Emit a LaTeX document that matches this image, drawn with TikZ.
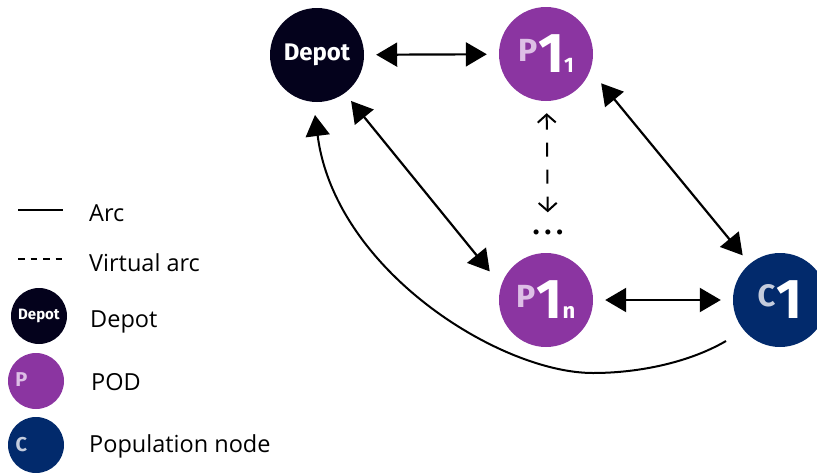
\documentclass[tikz,border=0pt]{standalone}
\usepackage{fontspec}
\setmainfont{Open Sans}
\newfontfamily\nodefont{Fira Sans}
\usetikzlibrary{arrows.meta,calc}

\definecolor{depotfill}{HTML}{04021C}
\definecolor{podfill}{HTML}{8B35A1}
\definecolor{popfill}{HTML}{022A6C}
\definecolor{podletter}{HTML}{DDBFE6}
\definecolor{popletter}{HTML}{C4CCDD}

\newcommand{\setsz}[1]{\fontsize{#1}{#1}\selectfont}

\begin{document}
\begin{tikzpicture}[x=1pt,y=-1pt,
  site/.style={circle, inner sep=0pt, minimum size=94pt, text=white, font=\nodefont\bfseries},
  keysite/.style={circle, inner sep=0pt, minimum size=56pt, text=white, font=\nodefont\bfseries},
  keyletter/.style={inner sep=0pt, font=\nodefont\bfseries\setsz{20}},
  keytext/.style={anchor=base west, inner sep=0pt, font=\setsz{23.5}},
  bigtip/.tip={Triangle[length=21pt,width=24pt]},
  barbtip/.tip={Straight Barb[length=8pt,width=18pt]},
  arcline/.style={line width=2.2pt, bigtip-bigtip},
  returnarc/.style={line width=2pt, -bigtip},
  virtarc/.style={line width=2pt, dash pattern=on 14pt off 13pt, barbtip-barbtip},
  keyline/.style={line width=2pt},
  keydash/.style={line width=2pt, dash pattern=on 6.5pt off 6pt},
]
\useasboundingbox (0,0) rectangle (817,472);

% network nodes
\node[site, fill=depotfill, font=\nodefont\bfseries\setsz{24}] (dep) at (317,55) {Depot};
\node[site, fill=podfill] (p11) at (546,54)
  {{\color{podletter}\setsz{32}\raisebox{11pt}{P}}\kern1pt{\setsz{56}1}{\setsz{21}1}};
\node[site, fill=podfill] (p1n) at (546,300)
  {{\color{podletter}\setsz{32}\raisebox{11pt}{P}}\kern1pt{\setsz{56}1}{\setsz{22}n}};
\node[site, fill=popfill] (c1) at (780,300)
  {{\color{popletter}\setsz{31}\raisebox{12pt}{C}}\kern1pt{\setsz{56}1}};
\node[inner sep=0pt, font=\nodefont\bfseries\setsz{28}] (dots) at (548,232) {.\kern5pt.\kern5pt.};

% arcs between nodes
\draw[arcline, shorten <=12pt, shorten >=12pt] (dep) -- (p11);
\draw[arcline, shorten <=12pt, shorten >=12pt] (p1n) -- (c1);
\draw[arcline, shorten <=10pt, shorten >=18pt] (dep.-54) -- (p1n.162);
\draw[arcline, shorten <=17pt, shorten >=11pt] (p11.-20) -- (c1.130);
\draw[virtarc, shorten <=12pt, shorten >=17pt] (p11) -- (dots);

% return arc from the population node back to the depot
\draw[returnarc] ($(c1)+(-54,41)$)
  .. controls ($(c1)+(-90,62)$) and ($(c1)+(-140,73)$) .. ($(c1)+(-187,73)$)
  .. controls ($(c1)+(-280,73)$) and ($(dep)+(18,215)$) .. ($(dep)+(-2,60)$);

% legend
\coordinate (arcA) at (18,210);
\coordinate (arcB) at (63,210);
\coordinate (virtA) at (18,259);
\coordinate (virtB) at (63,259);
\draw[keyline] (arcA) -- (arcB);
\draw[keydash] (virtA) -- (virtB);
\node[keytext] (karc) at (89,221) {Arc};
\node[keytext] (kvirt) at (89,271) {Virtual arc};

\node[keysite, fill=depotfill, font=\nodefont\bfseries\setsz{15}] (kdep) at (39,316) {Depot};
\node[keytext] (kdeptext) at (90,327) {Depot};

\node[keysite, fill=podfill] (kpod) at (36,381) {};
\node[keyletter, text=podletter] (kpodP) at (21.5,380) {P};
\node[keytext] (kpodtext) at (91,390) {POD};

\node[keysite, fill=popfill] (kpop) at (36,445) {};
\node[keyletter, text=popletter] (kpopC) at (21.5,445) {C};
\node[keytext] (kpoptext) at (89,452) {Population node};
\end{tikzpicture}
\end{document}
